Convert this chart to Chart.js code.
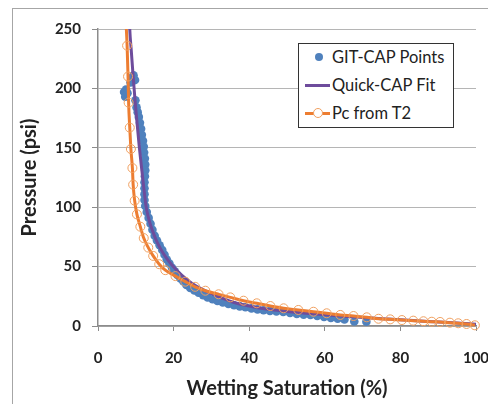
<!DOCTYPE html>
<html>
<head>
<meta charset="utf-8">
<script src="https://cdn.jsdelivr.net/npm/chart.js@4.4.1/dist/chart.umd.min.js"></script>
<style>
  html, body { margin: 0; padding: 0; background: #fff; }
  #wrap { position: relative; width: 488px; height: 404px; overflow: hidden; }
  #frame { position: absolute; left: 12px; top: 8px; width: 600px; height: 600px;
    border-left: 1px solid #a6a6a6; border-top: 1px solid #a6a6a6; }
  #chart { position: absolute; left: 0; top: 0; }
  #legend { position: absolute; left: 298px; top: 43px; width: 154px; height: 83px;
    border: 1px solid #333; background: #fff; font-family: Lato, sans-serif; font-size: 16.5px; color: #222; }
  .row { position: absolute; left: 0; height: 20px; line-height: 20px; width: 154px; }
  .row span.txt { position: absolute; left: 33px; top: 0; white-space: nowrap; }
  .sym { position: absolute; }
</style>
</head>
<body>
<div id="wrap">
  <div id="frame"></div>
  <canvas id="chart" width="488" height="404"></canvas>
  <div id="legend">
    <div class="row" style="top:3px">
      <div class="sym" style="left:16px;top:6px;width:8px;height:8px;border-radius:50%;background:#4F81BD"></div>
      <span class="txt">GIT-CAP Points</span>
    </div>
    <div class="row" style="top:31px">
      <div class="sym" style="left:6px;top:9px;width:25px;height:3px;background:#6E4C9C"></div>
      <span class="txt">Quick-CAP Fit</span>
    </div>
    <div class="row" style="top:59px">
      <div class="sym" style="left:6px;top:9px;width:25px;height:3px;background:#ED7D31"></div>
      <div class="sym" style="left:14px;top:5px;width:8px;height:8px;border-radius:50%;border:1px solid #F0A060;background:#fff"></div>
      <span class="txt">Pc from T2</span>
    </div>
  </div>
</div>
<script>
// GIT-CAP measured points (wetting saturation %, pressure psi)
const gitSw = [6.9, 7.2, 7.4, 7.8, 8.6, 9.0, 9.4, 9.8,
  9.9, 10.2, 10.5, 10.8, 11.1, 11.4, 11.6, 11.9, 12.1, 12.2, 12.4, 12.5, 12.5, 12.4, 12.3, 12.3, 12.3, 12.3,
  12.5, 12.9, 13.4, 13.9, 14.4, 15.0, 15.6, 16.3, 17.0, 17.6, 18.2, 18.9, 19.6, 20.3, 21.0, 21.8, 22.6,
  23.4, 24.4, 25.5, 26.6, 27.8, 29.0, 30.3, 31.6, 33.0, 34.5, 36.0, 37.5, 39.0, 40.6, 42.2, 43.8, 45.5,
  47.2, 49.0, 50.8, 52.6, 54.4, 56.2, 58.0, 59.8, 61.6, 63.4, 65.2, 67.8, 71.0];
const gitP = [197, 193, 199, 196, 205, 209, 211, 207,
  190, 184, 180, 176, 171, 166, 161, 156, 151, 146, 141, 136, 131, 126, 121, 116, 111, 106,
  101, 96, 91, 86, 81, 76, 72, 68, 64, 60, 56, 52.5, 49, 46, 43, 40, 37.5,
  34.5, 32, 30, 28, 26, 24, 22.5, 21, 19.8, 18.5, 17.5, 16.5, 15.8, 14.8, 14, 13.3, 12.7,
  12.2, 11.8, 11, 10.2, 9.6, 9.2, 8.4, 7.7, 6.8, 6.2, 5.5, 3.8, 3.6];

// Quick-CAP fitted curve
const fitSw = [8.1, 8.4, 8.8, 9.3, 9.8, 10.3, 10.95, 11.6, 12.2, 12.7, 13.2, 13.8, 14.5, 15.3, 16.2, 17.3,
  18.5, 19.8, 21.3, 23, 25, 27.5, 30, 33, 36, 40, 45, 50, 55, 60, 65, 70, 75, 80, 85, 90, 95, 100];
const fitP = [280, 250, 232, 210, 190, 172, 150, 131, 114, 101, 93, 86, 79.5, 73, 67, 61,
  55.5, 50.5, 45.5, 40.5, 35.5, 31, 27.2, 23.2, 19.8, 16.8, 14, 12.3, 10.8, 9.4, 8.2, 7.2, 6.2, 5.2, 4.3, 3.4, 2.5, 1.5];

// Pc derived from T2
const t2Sw = [7.3, 7.7, 7.95, 8.1, 8.4, 8.7, 9.1, 9.3, 9.7, 10.3, 11.2, 12.1, 13.3, 14.6, 16.2, 17.8, 20.5,
  23.1, 25.7, 28.4, 31.9, 35, 38.5, 42, 45.6, 49.1, 53, 57, 60.5, 64.1, 67.6, 71.1, 74.2, 77.3, 80.4,
  83.4, 86.1, 88.3, 90.5, 93.1, 95.3, 97.5, 99.7];
const t2P = [262, 236, 210, 188, 167, 149, 133, 119, 105.5, 94, 83.6, 74, 66, 59, 52, 47, 42,
  37.3, 33, 29.7, 26.7, 24.1, 21.3, 19.1, 16.8, 14.9, 13.5, 12, 10.7, 9.3, 8.4, 7.3, 6.1, 5.6, 5,
  4.5, 4, 3.6, 3.4, 2.8, 2.3, 1.7, 0.6];

const xTicks = [0, 20, 40, 60, 80, 100];
const yTicks = [0, 50, 100, 150, 200, 250];

const pts = (xs, ys) => xs.map((x, i) => ({ x, y: ys[i] }));
const clipArea = { left: 10, right: 10, top: 0, bottom: 10 };
const tickFont = { family: 'Lato, sans-serif', size: 15, weight: 'bold' };
const titleFont = { family: 'Lato, sans-serif', size: 20, weight: 'bold' };

new Chart(document.getElementById('chart'), {
  type: 'scatter',
  data: {
    datasets: [
      {
        label: 'Pc from T2',
        data: pts(t2Sw, t2P),
        showLine: true,
        borderColor: '#ED7D31',
        borderWidth: 3,
        cubicInterpolationMode: 'monotone',
        pointRadius: 4.5,
        pointBorderWidth: 1,
        pointBorderColor: '#F0A060',
        pointBackgroundColor: 'rgba(255,255,255,0)',
        clip: clipArea,
        order: 0
      },
      {
        label: 'Quick-CAP Fit',
        data: pts(fitSw, fitP),
        showLine: true,
        borderColor: '#6E4C9C',
        borderWidth: 3,
        cubicInterpolationMode: 'monotone',
        pointRadius: 0,
        clip: clipArea,
        order: 1
      },
      {
        label: 'GIT-CAP Points',
        data: pts(gitSw, gitP),
        pointRadius: 4.3,
        pointBorderWidth: 0,
        backgroundColor: '#4F81BD',
        borderColor: '#4F81BD',
        clip: clipArea,
        order: 2
      }
    ]
  },
  options: {
    responsive: false,
    animation: false,
    layout: { padding: { left: 0, right: 12, top: 29, bottom: 0 } },
    plugins: { legend: { display: false }, tooltip: { enabled: false } },
    scales: {
      x: {
        type: 'linear', min: 0, max: 100,
        afterBuildTicks: s => { s.ticks = xTicks.map(v => ({ value: v })); },
        afterFit: s => { s.height = 78; s.paddingLeft = 0; s.paddingRight = 0; },
        grid: { drawOnChartArea: false, color: '#8c8c8c', tickLength: 5, tickColor: '#8c8c8c' },
        border: { color: '#8c8c8c', width: 1.5 },
        ticks: { font: tickFont, color: '#222', padding: 18, maxRotation: 0 },
        title: { display: true, text: 'Wetting Saturation (%)', font: titleFont, color: '#222', padding: { top: 0, bottom: 3 } }
      },
      y: {
        type: 'linear', min: 0, max: 250,
        afterBuildTicks: s => { s.ticks = yTicks.map(v => ({ value: v })); },
        afterFit: s => { s.width = 98; s.paddingTop = 0; s.paddingBottom = 0; },
        grid: { color: '#b5b5b5', lineWidth: 1, tickLength: 6, tickColor: '#8c8c8c' },
        border: { color: '#8c8c8c', width: 1.5 },
        ticks: { font: tickFont, color: '#222', padding: 11 },
        title: { display: true, text: 'Pressure (psi)', font: titleFont, color: '#222', padding: { top: 18, bottom: 0 } }
      }
    }
  }
});
</script>
</body>
</html>
